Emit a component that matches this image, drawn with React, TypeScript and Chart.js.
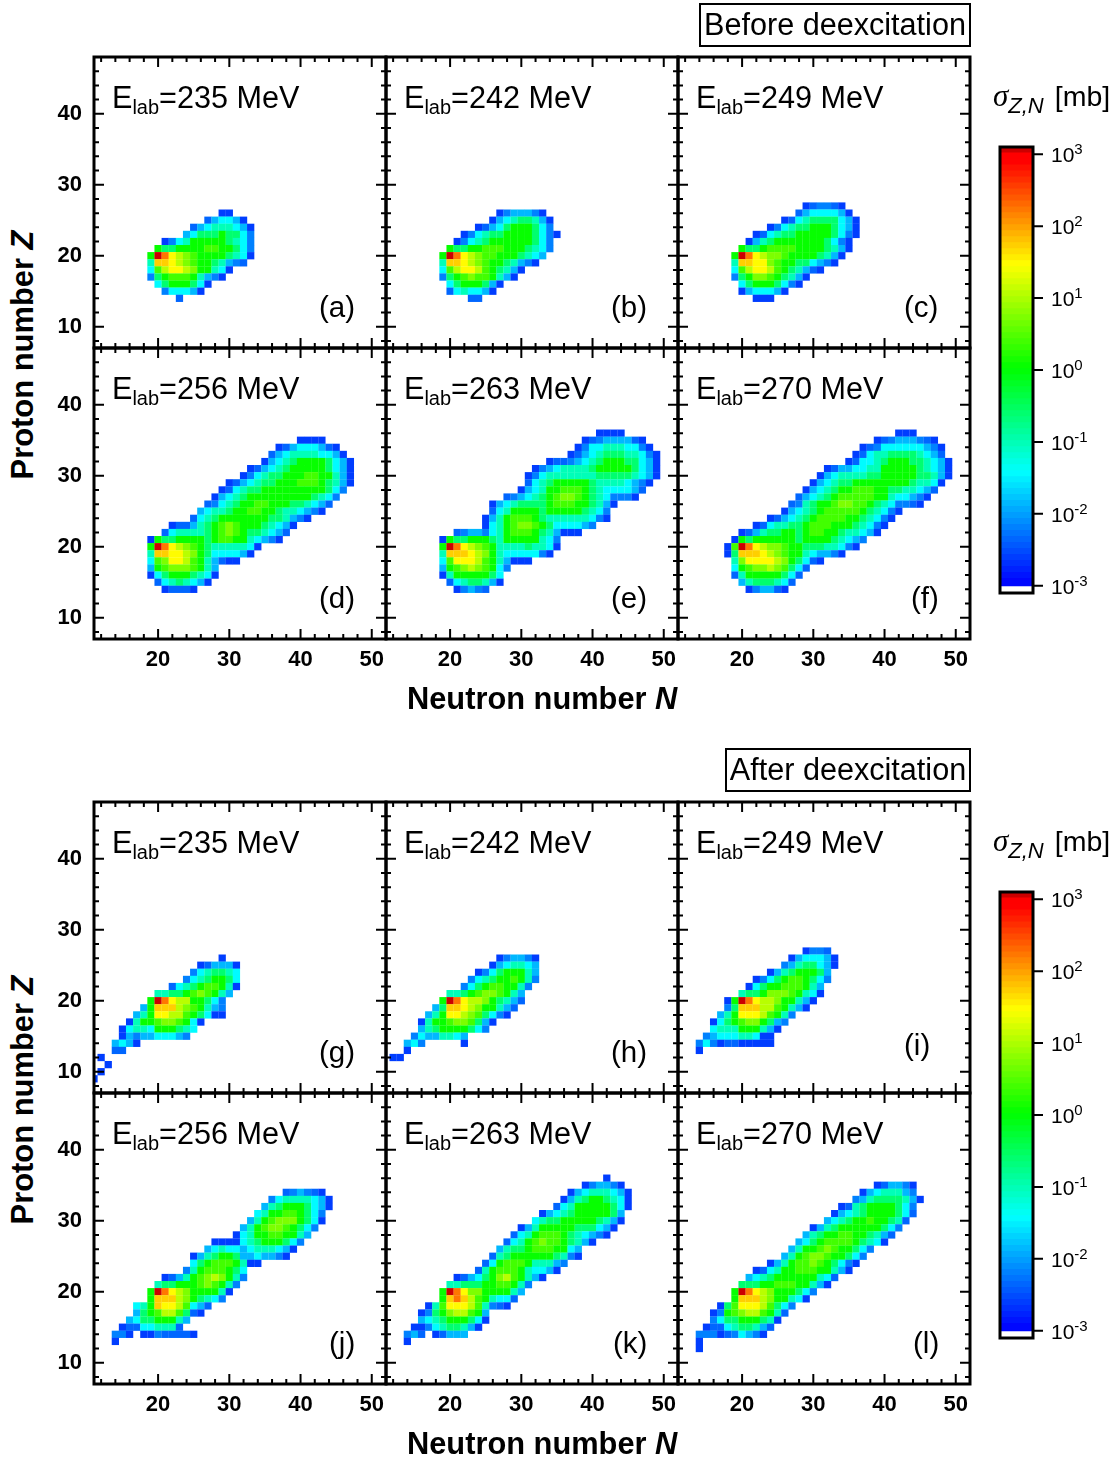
import React, { useEffect, useRef } from "react";
import { Chart, registerables } from "chart.js";

Chart.register(...registerables);

// Each row: [proton number Z, first neutron number N, one hex digit per cell = index in LEVEL_SIGMA]
type Row = [number, number, string];

const LEVEL_SIGMA = [0.0023, 0.004, 0.0063, 0.014, 0.036, 0.085, 0.25, 1, 2.5, 5.4, 12, 28, 56, 160, 1000];

const panelA: Row[] = [
  [26, 29, "00"], [25, 27, "134430"], [24, 25, "134555430"], [23, 24, "3466676642"],
  [22, 21, "0245777776542"], [21, 20, "76677778877642"], [20, 19, "7edba9877776540"],
  [19, 19, "5ccba987765321"], [18, 19, "48abba977540"], [17, 19, "26788875320"],
  [16, 20, "46777640"], [15, 21, "244430"], [14, 23, "1"],
];
const panelB: Row[] = [
  [26, 27, "0233320"], [25, 26, "034566530"], [24, 24, "01346777642"], [23, 22, "02456677776420"],
  [22, 21, "02456777777642"], [21, 20, "766778887776542"], [20, 19, "7edba9887776543"],
  [19, 19, "5ccba987765320"], [18, 19, "48abba876530"], [17, 19, "26789887530"],
  [16, 20, "46777630"], [15, 20, "1454430"], [14, 23, "11"],
];
const panelC: Row[] = [
  [27, 29, "012210"], [26, 28, "13444430"], [25, 26, "01456666430"], [24, 24, "0245667776430"],
  [23, 22, "014566777776420"], [22, 21, "035677777776420"], [21, 20, "7667888877776530"],
  [20, 19, "7edba99877776530"], [19, 19, "5ccbb9877664320"], [18, 19, "48abba8765310"],
  [17, 19, "26799876530"], [16, 20, "467776420"], [15, 20, "0344430"], [14, 22, "000"],
];
const panelD: Row[] = [
  [35, 40, "0000"], [34, 37, "013444310"], [33, 36, "13455554430"], [32, 35, "0345677776430"],
  [31, 33, "013456777776430"], [30, 32, "0245667778877530"], [29, 30, "013456677788876530"],
  [28, 29, "014566777777777642"], [27, 28, "034567777777776542"], [26, 27, "124567788777665431"],
  [25, 26, "345567788776554320"], [24, 25, "14567777777665320"], [23, 22, "011356789877765430"],
  [22, 21, "145555678987665431"], [21, 19, "0766777767887754320"], [20, 19, "7edba98765555540"],
  [19, 19, "5ccbba976444430"], [18, 19, "489bba8753100"], [17, 19, "3789998753"],
  [16, 19, "0467776540"], [15, 20, "14565430"], [14, 21, "01110"],
];
const panelE: Row[] = [
  [36, 41, "0000"], [35, 39, "012333310"], [34, 38, "02445554420"], [33, 37, "0134566655420"],
  [32, 34, "0112345677766430"], [31, 32, "023455556777776430"], [30, 31, "0245555555666665430"],
  [29, 31, "145677777655554320"], [28, 30, "034577888765444431"], [27, 28, "1234567899876542220"],
  [26, 26, "034566667888776530"], [25, 26, "14577776777776542"], [24, 25, "035788876555555420"],
  [23, 25, "0457899876444432"], [22, 21, "123324578887653000"], [21, 19, "07667776577777542"],
  [20, 19, "7edba987555565540"], [19, 19, "5cccba9754444420"], [18, 19, "48bbba8753000"],
  [17, 19, "3789a98742"], [16, 19, "057777764"], [15, 20, "14566530"], [14, 21, "02321"],
];
const panelF: Row[] = [
  [36, 42, "000"], [35, 39, "012333210"], [34, 37, "012444444320"], [33, 36, "0145566665431"],
  [32, 35, "014456777665430"], [31, 32, "013344557777765430"], [30, 31, "0345555667777766530"],
  [29, 30, "0345667777777765540"], [28, 29, "0345677888776655431"], [27, 28, "1345678888877544320"],
  [26, 27, "1256778998876542210"], [25, 26, "03456788888765420"], [24, 24, "013456788887765420"],
  [23, 22, "0145566788877765420"], [22, 20, "01356677678877655430"], [21, 19, "0767777776777765432"],
  [20, 18, "08edba9987766655420"], [19, 18, "06cccba9877543320"], [18, 19, "59bbbba976410"],
  [17, 19, "47899a98641"], [16, 19, "1577777641"], [15, 20, "35666541"], [14, 21, "023310"],
];
const panelG: Row[] = [
  [26, 29, "0"], [25, 26, "013330"], [24, 25, "2456654"], [23, 24, "24567764"],
  [22, 22, "1456788750"], [21, 20, "55667898753"], [20, 19, "7edbaa77642"], [19, 18, "37ccca987532"],
  [18, 17, "357bbaa876400"], [17, 16, "05778998740"], [16, 15, "04554777654"], [15, 15, "0323344432"],
  [14, 14, "3430"], [13, 14, "11"], [12, 12, "0"], [11, 13, "0"], [10, 12, "0"], [9, 11, "0"],
];
const panelH: Row[] = [
  [26, 27, "023320"], [25, 26, "0345543"], [24, 24, "024677753"], [23, 23, "2456778752"],
  [22, 22, "2467887752"], [21, 20, "55678998753"], [20, 19, "7edbaa976531"], [19, 18, "36ccba977531"],
  [18, 17, "357bba986420"], [17, 16, "05778998630"], [16, 16, "3567777642"], [15, 15, "24335543"],
  [14, 14, "342"], [14, 22, "0"], [13, 14, "0"], [12, 12, "00"],
];
const panelI: Row[] = [
  [27, 29, "0221"], [26, 27, "0344430"], [25, 26, "23566430"], [24, 24, "035677763"],
  [23, 22, "02467887642"], [22, 21, "04677888753"], [21, 20, "566799987540"], [20, 18, "07edbaa977530"],
  [19, 18, "26cccaa87530"], [18, 17, "357bbba8752"], [17, 16, "04678997632"], [16, 16, "4555777530"],
  [15, 15, "2344455400"], [14, 14, "242"], [14, 17, "01100000"], [13, 14, "0"],
];
const panelJ: Row[] = [
  [34, 38, "123210"], [33, 36, "245555430"], [32, 35, "3567776430"], [31, 34, "4577887642"],
  [30, 33, "35789997640"], [29, 32, "35789987642"], [28, 31, "04577887753"], [27, 28, "0000456777642"],
  [26, 27, "3454434555430"], [25, 25, "03567763343320"], [24, 25, "4678887500"], [23, 24, "257888764"],
  [22, 21, "0135789a9752"], [21, 20, "566777898752"], [20, 19, "7edba9777750"], [19, 19, "7ccca976542"],
  [18, 17, "457cbba8431"], [17, 17, "3678aa8610"], [16, 16, "346677753"], [15, 15, "011445551"],
  [14, 14, "220"], [14, 18, "00211110"], [13, 14, "0"],
];
const panelK: Row[] = [
  [36, 42, "0"], [35, 39, "023320"], [34, 37, "034555430"], [33, 36, "0356776540"],
  [32, 35, "14577777640"], [31, 33, "034567777763"], [30, 32, "4566777776530"], [29, 30, "03577777666430"],
  [28, 29, "14578887654320"], [27, 28, "1457898876530"], [26, 27, "356678887743"], [25, 26, "1567777776520"],
  [24, 25, "147888755532"], [23, 24, "157888754430"], [22, 21, "0134679a87530"], [21, 20, "556667788752"],
  [20, 19, "7edb99777753"], [19, 19, "7cdca875441"], [18, 17, "058bbba85210"], [17, 16, "02679aa873"],
  [16, 16, "3456777640"], [15, 15, "0024566530"], [14, 14, "231"], [14, 18, "01333"], [13, 14, "0"],
];
const panelL: Row[] = [
  [35, 39, "013320"], [34, 37, "03455532"], [33, 36, "2356666530"], [32, 34, "01567777642"],
  [31, 33, "034567777641"], [30, 32, "345677877651"], [29, 30, "0356777777642"], [28, 29, "3567788776531"],
  [27, 28, "3467888876540"], [26, 27, "357789877642"], [25, 26, "357899877642"], [24, 24, "0357889876420"],
  [23, 22, "01457788877530"], [22, 21, "3456777777541"], [21, 20, "6667788877530"], [20, 19, "7edba9777642"],
  [19, 19, "7ccca977540"], [18, 17, "068bbba8642"], [17, 16, "02789aa8751"], [16, 16, "2466777650"],
  [15, 15, "0114566531"], [14, 14, "2220124320"], [13, 14, "0"], [12, 14, "0"],
];

const ENERGIES = [235, 242, 249, 256, 263, 270];
const TOP_PANELS = [panelA, panelB, panelC, panelD, panelE, panelF];
const BOTTOM_PANELS = [panelG, panelH, panelI, panelJ, panelK, panelL];
const X_TICKS = [12, 14, 16, 18, 20, 22, 24, 26, 28, 30, 32, 34, 36, 38, 40, 42, 44, 46, 48, 50];
const Y_TICKS = [8, 10, 12, 14, 16, 18, 20, 22, 24, 26, 28, 30, 32, 34, 36, 38, 40, 42, 44, 46];
const COLORBAR_TICKS = [3, 2, 1, 0, -1, -2, -3];

const COLOR_STOPS: [number, number, number, number][] = [
  [-3, 0, 0, 255], [-1.44, 0, 255, 255], [0, 0, 255, 0], [1.44, 255, 255, 0], [2.88, 255, 0, 0], [3, 255, 0, 0],
];
const BANDS_PER_DECADE = 12;

function colorAt(logV: number): string {
  if (logV >= 2.99) return "rgb(204,0,0)";
  const t = Math.max(-3, logV);
  for (let i = 0; i < COLOR_STOPS.length - 1; i++) {
    const a = COLOR_STOPS[i];
    const b = COLOR_STOPS[i + 1];
    if (t <= b[0]) {
      const f = (t - a[0]) / (b[0] - a[0]);
      return `rgb(${Math.round(a[1] + (b[1] - a[1]) * f)},${Math.round(a[2] + (b[2] - a[2]) * f)},${Math.round(a[3] + (b[3] - a[3]) * f)})`;
    }
  }
  return "rgb(204,0,0)";
}
function bandColor(value: number): string {
  const l = Math.log10(value);
  return colorAt((Math.floor((l + 3) * BANDS_PER_DECADE) + 0.5) / BANDS_PER_DECADE - 3);
}

const SANS = "'Liberation Sans', Arial, sans-serif";

const frameTicks = {
  id: "frameTicks",
  afterDraw(chart: any) {
    const { ctx, chartArea: a, scales } = chart;
    const { x, y } = scales;
    ctx.save();
    ctx.strokeStyle = "#000";
    ctx.lineWidth = 2;
    ctx.beginPath();
    X_TICKS.forEach((v) => {
      const len = v % 10 === 0 ? 10 : 5;
      const p = x.getPixelForValue(v);
      ctx.moveTo(p, a.bottom); ctx.lineTo(p, a.bottom - len);
      ctx.moveTo(p, a.top); ctx.lineTo(p, a.top + len);
    });
    Y_TICKS.forEach((v) => {
      const len = v % 10 === 0 ? 10 : 5;
      const p = y.getPixelForValue(v);
      ctx.moveTo(a.left, p); ctx.lineTo(a.left + len, p);
      ctx.moveTo(a.right, p); ctx.lineTo(a.right - len, p);
    });
    ctx.stroke();
    ctx.lineWidth = 3;
    ctx.strokeRect(a.left, a.top, a.right - a.left, a.bottom - a.top);
    ctx.restore();
  },
};

const ML = 50, MB = 40, MT = 6, MR = 6, PW = 292, PH = 291;

function Panel({ rows, left, top, showX, showY }: { rows: Row[]; left: number; top: number; showX: boolean; showY: boolean }) {
  const ref = useRef<HTMLCanvasElement>(null);
  useEffect(() => {
    const cells = rows.flatMap(([z, n, s]) =>
      [...s].map((c, i) => ({ x: n + i, y: z, v: LEVEL_SIGMA[parseInt(c, 16)] })));
    const tickFont = { family: "'Liberation Sans'", weight: "bold" as const, size: 22 };
    const chart = new Chart(ref.current!, {
      type: "scatter",
      data: {
        datasets: [{
          data: cells,
          pointStyle: "rect",
          pointRadius: 5.15,
          pointBorderWidth: 0,
          pointBackgroundColor: cells.map((c) => bandColor(c.v)),
        }],
      },
      options: {
        animation: false,
        responsive: false,
        events: [],
        layout: { padding: { top: MT, right: MR, left: 0, bottom: 0 } },
        plugins: { legend: { display: false }, tooltip: { enabled: false } },
        scales: {
          x: {
            type: "linear", min: 11, max: 52,
            grid: { display: false }, border: { display: false },
            afterBuildTicks: (s: any) => { s.ticks = X_TICKS.map((value) => ({ value })); },
            afterFit: (s: any) => { s.height = MB; s.paddingLeft = 0; s.paddingRight = 0; },
            ticks: {
              display: showX, autoSkip: false, maxRotation: 0, minRotation: 0, padding: 0,
              color: "#000", font: tickFont,
              callback: (v: any) => (v % 10 === 0 ? String(v) : ""),
            },
          },
          y: {
            type: "linear", min: 7, max: 48,
            grid: { display: false }, border: { display: false },
            afterBuildTicks: (s: any) => { s.ticks = Y_TICKS.map((value) => ({ value })); },
            afterFit: (s: any) => { s.width = ML; s.paddingTop = 0; s.paddingBottom = 0; },
            ticks: {
              display: showY, autoSkip: false, padding: 4,
              color: "#000", font: tickFont,
              callback: (v: any) => (v % 10 === 0 ? String(v) : ""),
            },
          },
        },
      },
      plugins: [frameTicks],
    } as any);
    return () => chart.destroy();
  }, []);
  return (
    <canvas ref={ref} width={PW + ML + MR} height={PH + MT + MB}
      style={{ position: "absolute", left: left - ML, top: top - MT, width: PW + ML + MR, height: PH + MT + MB }} />
  );
}

const colorbarFrame = {
  id: "colorbarFrame",
  afterDraw(chart: any) {
    const { ctx, chartArea: a, scales } = chart;
    ctx.save();
    ctx.strokeStyle = "#000";
    ctx.lineWidth = 2;
    ctx.beginPath();
    COLORBAR_TICKS.forEach((e) => {
      const p = scales.y.getPixelForValue(Math.pow(10, e));
      ctx.moveTo(a.right, p); ctx.lineTo(a.right + 10, p);
    });
    ctx.stroke();
    ctx.lineWidth = 3;
    ctx.strokeRect(a.left, a.top, a.right - a.left, a.bottom - a.top);
    ctx.restore();
  },
};

function Colorbar({ top }: { top: number }) {
  const ref = useRef<HTMLCanvasElement>(null);
  useEffect(() => {
    const bands: any[] = [];
    for (let i = 0; i <= 6 * BANDS_PER_DECADE; i++) {
      const lo = i / BANDS_PER_DECADE - 3;
      const hi = i === 6 * BANDS_PER_DECADE ? 3.1 : lo + 1 / BANDS_PER_DECADE + 0.02;
      bands.push({
        data: [[Math.pow(10, lo), Math.pow(10, hi)]],
        backgroundColor: colorAt(i === 6 * BANDS_PER_DECADE ? 3 : lo + 0.5 / BANDS_PER_DECADE),
        borderWidth: 0,
        grouped: false,
        barPercentage: 1,
        categoryPercentage: 1,
      });
    }
    const chart = new Chart(ref.current!, {
      type: "bar",
      data: { labels: ["sigma"], datasets: bands },
      options: {
        animation: false,
        responsive: false,
        events: [],
        layout: { padding: { left: 10, top: 7, right: 27, bottom: 7 } },
        plugins: { legend: { display: false }, tooltip: { enabled: false } },
        scales: {
          x: { display: false },
          y: { type: "logarithmic", display: false, min: Math.pow(10, -3.1), max: Math.pow(10, 3.1) },
        },
      },
      plugins: [colorbarFrame],
    } as any);
    return () => chart.destroy();
  }, []);
  return (
    <canvas ref={ref} width={70} height={460}
      style={{ position: "absolute", left: 990, top: top - 7, width: 70, height: 460 }} />
  );
}

function Txt({ x, y, size, children, style }: any) {
  return (
    <div style={{
      position: "absolute", left: x, top: y, transform: "translateY(-50%)", fontFamily: SANS, fontSize: size,
      lineHeight: 1, whiteSpace: "nowrap", color: "#000", ...style,
    }}>{children}</div>
  );
}

const LETTERS = ["a", "b", "c", "d", "e", "f", "g", "h", "i", "j", "k", "l"];
const LETTER_POS: [number, number][] = [
  [319, 307], [611, 307], [904, 307], [319, 598], [611, 598], [911, 598],
  [319, 1052], [611, 1052], [904, 1045], [329, 1343], [613, 1343], [913, 1343],
];
const COL_X = [93.5, 385.5, 677.5];
const BLOCK_Y = [56.5, 801.5];

function Block({ panels, blockTop }: { panels: Row[][]; blockTop: number }) {
  return (
    <>
      {panels.map((rows, i) => {
        const col = i % 3, row = Math.floor(i / 3);
        const top = blockTop + row * PH;
        return <Panel key={i} rows={rows} left={COL_X[col]} top={top} showX={row === 1} showY={col === 0} />;
      })}
      {ENERGIES.map((e, i) => {
        const col = i % 3, row = Math.floor(i / 3);
        return (
          <Txt key={e} x={COL_X[col] + 18.5} y={blockTop + row * PH + 40} size={30.6}>
            E<span style={{ fontSize: 20, position: "relative", top: 6 }}>lab</span>={e} MeV
          </Txt>
        );
      })}
      <Txt x={0} y={blockTop + 298} size={30.9} style={{ fontWeight: "bold", left: 23, transform: "translate(-50%,-50%) rotate(-90deg)" }}>
        Proton number <i>Z</i>
      </Txt>
      <Txt x={407} y={blockTop + 642} size={30.8} style={{ fontWeight: "bold" }}>
        Neutron number <i>N</i>
      </Txt>
      <Colorbar top={blockTop + 90} />
      {COLORBAR_TICKS.map((e, i) => (
        <Txt key={e} x={1051} y={blockTop + 97 + i * 72} size={21}>
          10<span style={{ fontSize: 15, position: "relative", top: -8 }}>{e}</span>
        </Txt>
      ))}
      <Txt x={993} y={blockTop + 38} size={28.5}>
        <span style={{ fontFamily: "'Liberation Serif'", fontStyle: "italic", fontSize: 31 }}>σ</span>
        <span style={{ fontStyle: "italic", fontSize: 22, position: "relative", top: 7 }}>Z,N</span>
        <span style={{ marginLeft: 11 }}>[mb]</span>
      </Txt>
    </>
  );
}

export default function App() {
  return (
    <div style={{ position: "absolute", left: 0, top: 0, width: 1118, height: 1458, overflow: "hidden", background: "#fff" }}>
      <Block panels={TOP_PANELS} blockTop={BLOCK_Y[0]} />
      <Block panels={BOTTOM_PANELS} blockTop={BLOCK_Y[1]} />
      {LETTERS.map((l, i) => (
        <Txt key={l} x={LETTER_POS[i][0]} y={LETTER_POS[i][1]} size={29.5}>({l})</Txt>
      ))}
      <div style={{ position: "absolute", left: 699, top: 3, width: 268, height: 40, border: "2px solid #000", fontFamily: SANS, fontSize: 30.6, lineHeight: "39px", textAlign: "center", whiteSpace: "nowrap" }}>Before deexcitation</div>
      <div style={{ position: "absolute", left: 725, top: 748, width: 242, height: 40, border: "2px solid #000", fontFamily: SANS, fontSize: 30.6, lineHeight: "39px", textAlign: "center", whiteSpace: "nowrap" }}>After deexcitation</div>
    </div>
  );
}
